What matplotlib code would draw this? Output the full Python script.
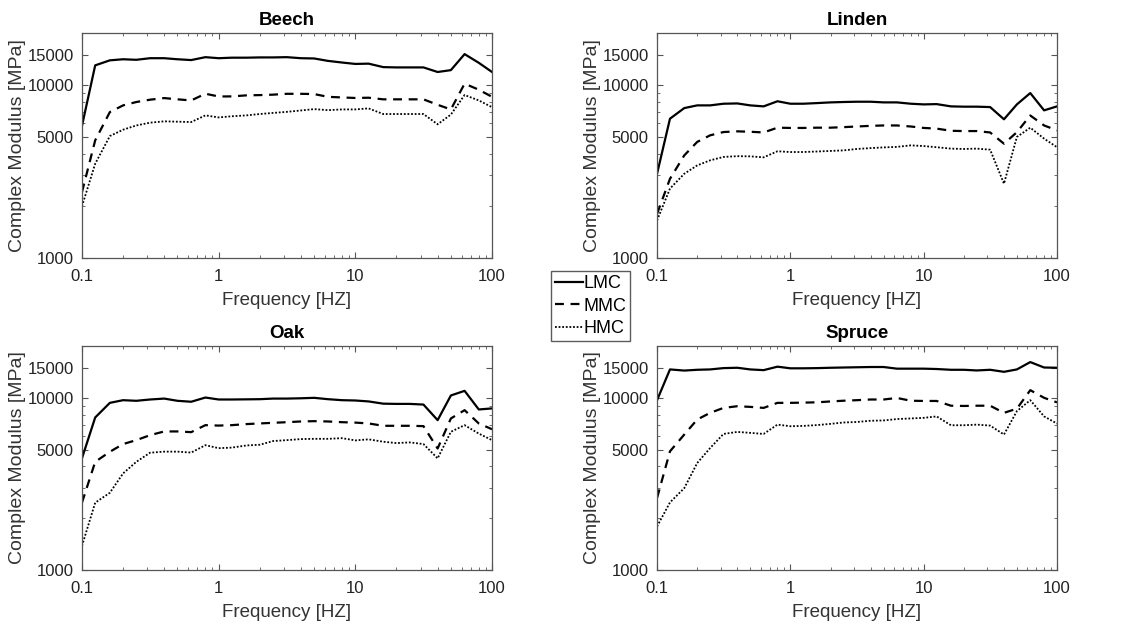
import matplotlib.pyplot as plt
from matplotlib.ticker import FixedLocator, LogLocator, NullFormatter, FixedFormatter

# frequencies (1/10 decade steps, Hz)
freq = [0.1, 0.125, 0.16, 0.2, 0.25, 0.315, 0.4, 0.5, 0.63, 0.8,
        1, 1.25, 1.6, 2, 2.5, 3.15, 4, 5, 6.3, 8,
        10, 12.5, 16, 20, 25, 31.5, 40, 50, 63, 80, 100]

# --- Beech ---
beech_lmc = [5800, 13000, 13900, 14100, 14000, 14300, 14300, 14100, 13950, 14500,
             14300, 14400, 14400, 14450, 14450, 14500, 14300, 14250, 13800, 13500,
             13250, 13300, 12700, 12650, 12650, 12650, 11900, 12200, 15100, 13450, 11900]
beech_mmc = [2400, 4790, 6980, 7630, 7980, 8230, 8410, 8270, 8150, 8910,
             8590, 8600, 8720, 8750, 8800, 8900, 8900, 8870, 8550, 8480,
             8420, 8450, 8270, 8270, 8270, 8270, 7690, 7230, 10190, 9400, 8550]
beech_hmc = [1990, 3510, 5070, 5520, 5840, 6060, 6170, 6140, 6110, 6680,
             6500, 6600, 6680, 6800, 6900, 7000, 7130, 7260, 7160, 7230,
             7230, 7330, 6800, 6800, 6800, 6800, 5930, 6750, 8760, 8150, 7450]

# --- Linden ---
linden_lmc = [3070, 6390, 7360, 7630, 7630, 7800, 7830, 7630, 7530, 8060,
              7800, 7800, 7870, 7940, 7980, 8010, 8010, 7940, 7940, 7800,
              7730, 7760, 7530, 7500, 7500, 7460, 6340, 7730, 8990, 7140, 7530]
linden_mmc = [1800, 2870, 3920, 4690, 5120, 5350, 5400, 5370, 5320, 5670,
              5650, 5650, 5670, 5670, 5710, 5760, 5810, 5840, 5840, 5760,
              5650, 5600, 5440, 5420, 5420, 5320, 4580, 5340, 6670, 5840, 5470]
linden_hmc = [1650, 2520, 3070, 3430, 3670, 3840, 3880, 3870, 3820, 4140,
              4100, 4100, 4130, 4160, 4190, 4270, 4320, 4360, 4390, 4480,
              4440, 4370, 4290, 4270, 4290, 4230, 2690, 5010, 5670, 4900, 4370]

# --- Oak ---
oak_lmc = [4450, 7690, 9350, 9690, 9610, 9780, 9900, 9610, 9490, 10040,
           9780, 9780, 9800, 9820, 9900, 9900, 9940, 10000, 9820, 9690,
           9650, 9530, 9250, 9220, 9220, 9140, 7420, 10320, 10980, 8560, 8680]
oak_mmc = [2460, 4250, 4860, 5390, 5680, 6070, 6380, 6380, 6320, 6940,
           6900, 6940, 7040, 7100, 7160, 7220, 7290, 7320, 7290, 7220,
           7180, 7100, 6880, 6880, 6880, 6850, 5080, 7590, 8480, 7100, 6570]
oak_hmc = [1380, 2460, 2810, 3640, 4250, 4800, 4870, 4870, 4810, 5310,
           5100, 5140, 5290, 5340, 5610, 5680, 5760, 5780, 5780, 5830,
           5660, 5740, 5560, 5460, 5510, 5390, 4450, 6350, 6940, 6200, 5680]

# --- Spruce ---
spruce_lmc = [9690, 14620, 14400, 14550, 14620, 14880, 14950, 14620, 14480, 15170,
              14840, 14840, 14880, 14950, 15000, 15050, 15100, 15100, 14770, 14770,
              14770, 14700, 14550, 14550, 14420, 14550, 14160, 14620, 16130, 15000, 14950]
spruce_mmc = [2620, 4890, 6120, 7480, 8180, 8740, 8940, 8860, 8740, 9350,
              9350, 9380, 9420, 9530, 9620, 9690, 9780, 9780, 9980, 9620,
              9590, 9590, 9000, 8970, 9000, 9000, 8180, 8650, 11080, 10000, 9410]
spruce_hmc = [1790, 2470, 2990, 4180, 5110, 6170, 6340, 6260, 6170, 6990,
              6840, 6870, 6950, 7060, 7190, 7240, 7360, 7390, 7530, 7590,
              7650, 7800, 6930, 6930, 6990, 6900, 6120, 8370, 9690, 7800, 7090]

species = ["Beech", "Linden", "Oak", "Spruce"]
series = {
    "Beech": (beech_lmc, beech_mmc, beech_hmc),
    "Linden": (linden_lmc, linden_mmc, linden_hmc),
    "Oak": (oak_lmc, oak_mmc, oak_hmc),
    "Spruce": (spruce_lmc, spruce_mmc, spruce_hmc),
}
labels = ["LMC", "MMC", "HMC"]
styles = ["-", (0, (4, 3)), (0, (1, 1))]
widths = [1.6, 1.6, 1.3]

yticks = [1000, 5000, 10000, 15000]
xticks = [0.1, 1, 10, 100]

plt.rcParams['font.family'] = ['Liberation Sans', 'DejaVu Sans']

fig = plt.figure(figsize=(11.35, 6.30), dpi=100)
positions = [
    [0.0722, 0.5905, 0.3613, 0.3571],
    [0.5789, 0.5905, 0.3524, 0.3571],
    [0.0722, 0.0952, 0.3613, 0.3556],
    [0.5789, 0.0952, 0.3524, 0.3556],
]
edge = "#555555"

handles = []
for name, pos in zip(species, positions):
    ax = fig.add_axes(pos)
    for vals, ls, lw, lab in zip(series[name], styles, widths, labels):
        h, = ax.plot(freq, vals, color="black", linestyle=ls, linewidth=lw, label=lab)
        if name == "Beech":
            handles.append(h)
    ax.set_xscale("log")
    ax.set_yscale("log")
    ax.set_xlim(0.1, 100)
    ax.set_ylim(1000, 20000)
    ax.xaxis.set_major_locator(FixedLocator(xticks))
    ax.xaxis.set_major_formatter(FixedFormatter(["0.1", "1", "10", "100"]))
    ax.xaxis.set_minor_locator(LogLocator(base=10, subs=range(2, 10)))
    ax.xaxis.set_minor_formatter(NullFormatter())
    ax.yaxis.set_major_locator(FixedLocator(yticks))
    ax.yaxis.set_major_formatter(FixedFormatter([str(t) for t in yticks]))
    ax.yaxis.set_minor_locator(FixedLocator([2000, 3000, 4000, 6000, 7000, 8000, 9000]))
    ax.yaxis.set_minor_formatter(NullFormatter())
    ax.tick_params(which="both", direction="in", top=True, right=True,
                   colors=edge, labelcolor="#222222", labelsize=12)
    ax.tick_params(which="major", length=4)
    ax.tick_params(which="minor", length=2.5)
    ax.tick_params(axis="x", which="major", pad=8)
    ax.tick_params(axis="y", which="major", pad=6)
    for sp in ax.spines.values():
        sp.set_color(edge)
        sp.set_linewidth(0.9)
    ax.set_title(name, fontsize=13.5, fontweight="bold", pad=6)
    ax.set_xlabel("Frequency [HZ]", fontsize=13.5, color="#333333", labelpad=6)
    ax.set_ylabel("Complex Modulus [MPa]", fontsize=14, color="#333333", labelpad=1)

fig.legend(handles, labels, loc="center", bbox_to_anchor=(0.5203, 0.514),
           fontsize=13, frameon=True, fancybox=False, edgecolor="#333333",
           handlelength=1.55, handletextpad=0.05, labelspacing=0.32, borderpad=0.2,
           borderaxespad=0)

fig.savefig("out.png", dpi=100)
